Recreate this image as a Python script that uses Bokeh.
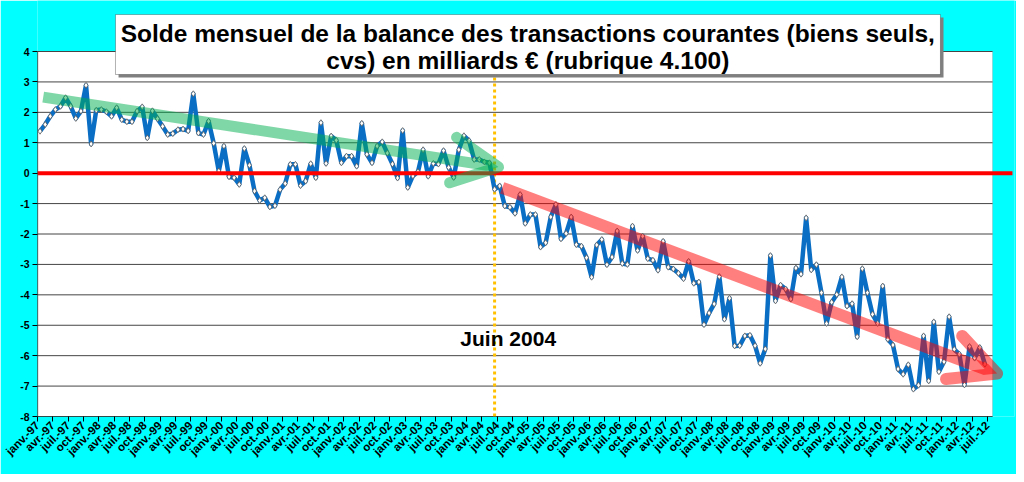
import math
from bokeh.plotting import figure
from bokeh.models import (Range1d, FixedTicker, BoxAnnotation, Label, Arrow,
                          OpenHead, ColumnDataSource)
from bokeh.embed import file_html
from bokeh.resources import INLINE

# ---- data: monthly balance (goods only, sa), billions EUR, janv-97 .. juin-12
solde = [
    1.38, 1.60, 1.87, 2.09, 2.20, 2.48, 2.20, 1.80, 2.04, 2.89, 0.96, 2.07,
    2.09, 2.02, 1.87, 2.15, 1.76, 1.69, 1.69, 2.04, 2.18, 1.16, 2.05, 1.79,
    1.54, 1.27, 1.30, 1.43, 1.45, 1.39, 2.61, 1.32, 1.27, 1.71, 0.98, 0.07,
    0.89, -0.12, -0.15, -0.37, 0.81, 0.26, -0.59, -0.90, -0.81, -1.11, -1.07, -0.54,
    -0.34, 0.29, 0.29, -0.41, -0.26, 0.31, -0.15, 1.66, 0.32, 1.22, 1.08, 0.34,
    0.56, 0.56, 0.23, 1.64, 0.62, 0.34, 0.89, 1.03, 0.66, 0.30, -0.16, 1.40,
    -0.47, -0.09, 0.05, 0.77, -0.10, 0.32, 0.30, 0.74, 0.19, -0.14, 0.77, 1.23,
    1.07, 0.45, 0.45, 0.37, 0.34, -0.53, -0.42, -1.08, -1.12, -1.32, -0.70, -1.65,
    -1.36, -1.36, -2.43, -2.29, -1.44, -1.03, -2.16, -1.98, -1.44, -2.35, -2.40, -2.78,
    -3.42, -2.36, -2.18, -3.01, -2.76, -1.90, -2.97, -3.00, -1.74, -2.54, -2.07, -2.81,
    -2.86, -3.19, -2.24, -3.09, -3.15, -3.29, -3.47, -2.90, -3.62, -3.58, -4.98, -4.60,
    -4.30, -3.40, -4.80, -4.11, -5.68, -5.67, -5.35, -5.33, -5.67, -6.25, -5.78, -2.71,
    -4.20, -3.68, -3.81, -4.14, -3.12, -3.32, -1.47, -3.18, -3.01, -3.93, -4.94, -4.24,
    -3.99, -3.41, -4.37, -4.29, -5.38, -3.14, -3.93, -4.64, -4.94, -3.71, -5.46, -5.65,
    -6.44, -6.61, -6.30, -7.10, -6.97, -5.35, -6.83, -4.89, -6.53, -6.20, -4.72, -5.79,
    -5.95, -6.96, -5.70, -6.08, -5.73, -6.28,
]
n_categories = 187  # janv-97 .. juil-12
quarter_names = ["janv.", "avr.", "juil.", "oct."]
years = ["97", "98", "99", "00", "01", "02", "03", "04", "05", "06", "07",
         "08", "09", "10", "11", "12"]
tick_labels = [f"{q}-{y}" for y in years for q in quarter_names][:63]
tick_positions = [3 * k for k in range(len(tick_labels))]
y_ticks = list(range(-8, 5))
y_tick_labels = [str(v) for v in y_ticks]

title_line1 = "Solde mensuel de la balance des transactions courantes (biens seuls,"
title_line2 = "cvs) en milliards \u20ac (rubrique 4.100)"
event_label = "Juin 2004"
event_month = 89  # juin-04

FONT = "Liberation Sans"
CYAN = "#00FFFF"

x = [i + 0.5 for i in range(len(solde))]
src = ColumnDataSource(dict(x=x, y=solde))

p = figure(width=1016, height=474, output_backend="svg", toolbar_location=None,
           x_range=Range1d(0, 191.3), y_range=Range1d(-8, 5.677),
           min_border_left=37, min_border_right=2, min_border_top=0,
           min_border_bottom=58, background_fill_color=CYAN,
           border_fill_color=CYAN, outline_line_color=None)
p.xgrid.visible = False
p.ygrid.visible = False

# plot area background
p.add_layout(BoxAnnotation(left=0, right=n_categories, bottom=-8, top=4,
                           fill_color="white", fill_alpha=1,
                           line_color="#8c8c8c", line_width=1, level="underlay"))

# horizontal gridlines
grid_src = ColumnDataSource(dict(x0=[0] * len(y_ticks), x1=[n_categories] * len(y_ticks),
                                 y=y_ticks))
p.segment(x0="x0", x1="x1", y0="y", y1="y", source=grid_src,
          line_color="#454545", line_width=1)

# axis lines
p.segment(x0=[0], x1=[0], y0=[-8], y1=[4], line_color="black", line_width=1.2)
p.segment(x0=[0], x1=[n_categories], y0=[-8], y1=[-8], line_color="black", line_width=1.2)

# vertical dotted line at June 2004
p.segment(x0=[event_month + 0.5], x1=[event_month + 0.5], y0=[-8], y1=[4],
          line_color="#FFC000", line_width=3, line_dash="3 3")

# data
p.line("x", "y", source=src, line_color="#0A6EC4", line_width=4.5, line_join="round")
p.scatter("x", "y", source=src, marker="diamond", size=6, fill_color="white",
          line_color="#5a5a5a", line_width=0.8)

# zero line
p.segment(x0=[0], x1=[190.9], y0=[0], y1=[0], line_color="#FF0000", line_width=4)

# trend arrows
p.add_layout(Arrow(x_start=1.12, y_start=2.50, x_end=90.27, y_end=0.20,
                   line_color="#00B050", line_alpha=0.5, line_width=11,
                   end=OpenHead(size=46, line_color="#00B050", line_alpha=0.5,
                                line_width=11, line_cap="round", line_join="round")))
p.add_layout(Arrow(x_start=90.99, y_start=-0.48, x_end=187.9, y_end=-6.59,
                   line_color="#FF0000", line_alpha=0.5, line_width=12,
                   end=OpenHead(size=46, line_color="#FF0000", line_alpha=0.5,
                                line_width=12, line_cap="round", line_join="round")))

# axes
ya = p.yaxis[0]
ya.ticker = FixedTicker(ticks=y_ticks)
ya.major_label_overrides = {v: lab for v, lab in zip(y_ticks, y_tick_labels)}
ya.axis_line_color = None
ya.major_tick_in = 0
ya.major_tick_out = 5
ya.minor_tick_in = 0
ya.minor_tick_out = 0
ya.major_tick_line_color = "black"
ya.major_label_standoff = 3
ya.major_label_text_font = FONT
ya.major_label_text_font_size = "10.5px"
ya.major_label_text_font_style = "bold"
ya.major_label_text_color = "black"

xa = p.xaxis[0]
xa.ticker = FixedTicker(ticks=tick_positions)
xa.major_label_overrides = {pos: lab for pos, lab in zip(tick_positions, tick_labels)}
xa.major_label_orientation = math.pi / 4
xa.axis_line_color = None
xa.major_tick_in = 0
xa.major_tick_out = 5
xa.minor_tick_in = 0
xa.minor_tick_out = 0
xa.major_tick_line_color = "black"
xa.major_label_standoff = 2
xa.major_label_text_font = FONT
xa.major_label_text_font_size = "11.5px"
xa.major_label_text_font_style = "bold"
xa.major_label_text_color = "black"

# event label
p.add_layout(Label(x=92.17, y=-5.45, text=event_label, text_align="center",
                   text_baseline="middle", text_font=FONT, text_font_size="21px",
                   text_font_style="bold", text_color="black"))

# title box with shadow
p.add_layout(BoxAnnotation(left=15.27 + 0.6, right=176.8 + 0.6, top=5.216 - 0.1,
                           bottom=3.244 - 0.1, fill_color="#7f7f7f", fill_alpha=1,
                           line_color=None))
p.add_layout(BoxAnnotation(left=15.27, right=176.8, top=5.216, bottom=3.244,
                           fill_color="white", fill_alpha=1, line_color="black",
                           line_width=1))
p.add_layout(Label(x=96.0, y=4.592, text=title_line1, text_align="center",
                   text_baseline="middle", text_font=FONT, text_font_size="24.5px",
                   text_font_style="bold", text_color="black"))
p.add_layout(Label(x=96.0, y=3.704, text=title_line2, text_align="center",
                   text_baseline="middle", text_font=FONT, text_font_size="24.5px",
                   text_font_style="bold", text_color="black"))

open("out.html", "w").write(file_html(p, INLINE))
